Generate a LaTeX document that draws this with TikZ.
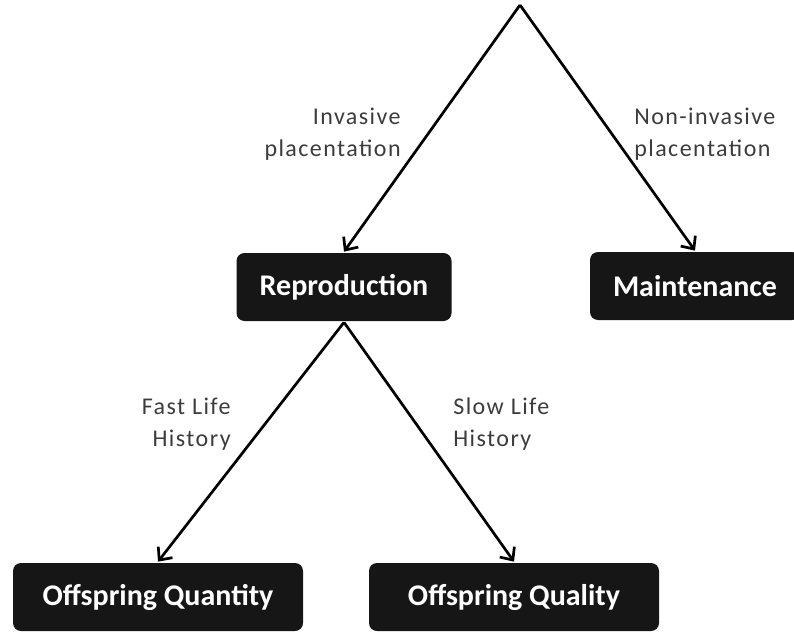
\documentclass[tikz,border=0pt]{standalone}
\usepackage{fontspec}
\setmainfont{Carlito}
\newfontfamily\lblfont[LetterSpace=6]{Carlito}
\usetikzlibrary{arrows.meta}
\definecolor{boxgray}{RGB}{22,22,22}
\definecolor{labelgray}{RGB}{60,60,60}

\begin{document}
\begin{tikzpicture}[x=1pt,y=-1pt,line width=2.7pt,
    >={Straight Barb[length=10pt,width=18pt]},
    box/.style={rectangle,rounded corners=8pt,fill=boxgray,text=white,
      font=\bfseries\fontsize{30}{32}\selectfont,minimum height=68pt,inner sep=0pt},
    lbl/.style={text=labelgray,font=\lblfont\fontsize{24}{32}\selectfont,inner sep=0pt}]
            \useasboundingbox (0,0) rectangle (794,631);
            \coordinate (top) at (520,5);
            \draw (344,287) node[box,minimum width=215pt] (repro) {Reproduction};
            \draw (695,286) node[box,minimum width=210pt] (maint) {Maintenance};
            \draw (158,597) node[box,minimum width=290pt] (quant) {Offspring Quantity};
            \draw (514,597) node[box,minimum width=290pt] (qual) {Offspring Quality};
            \node[lbl,anchor=east,align=right] (inv) at (402,134) {Invasive\\placentation};
            \node[lbl,anchor=west,align=left] (noninv) at (633,134) {Non-invasive\\placentation};
            \node[lbl,anchor=east,align=right] (fast) at (232,424) {Fast Life\\History};
            \node[lbl,anchor=west,align=left] (slow) at (452,424) {Slow Life\\History};
            \draw[->] (top) -- (repro.north);
            \draw[->] (top) -- (maint.north);
            \draw[->] (repro.south) -- (quant.north);
            \draw[->] (repro.south) -- (qual.north);
    \end{tikzpicture}
\end{document}
